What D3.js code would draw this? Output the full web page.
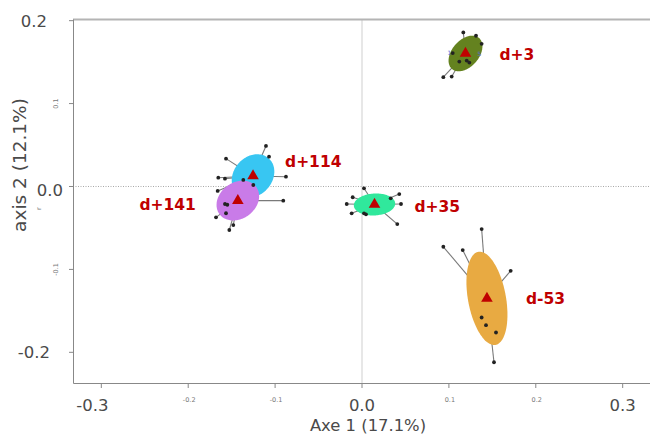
<!DOCTYPE html>
<html>
<head>
  <meta content="text/html;charset=utf-8" http-equiv="Content-Type">
  <title>PCoA ellipses</title>

  <style type="text/css">
    body { margin:0; background:#fff; }
    svg text { font-family: "DejaVu Sans", sans-serif; }
    .big   { fill:#4a4a4a; font-size:16.5px; }
    .small { fill:#777; font-size:6.5px; }
    .title { fill:#4a4a4a; }
    .grp   { fill:#c00000; font-weight:bold; font-size:15.5px; }
  </style>

  <script src="https://cdnjs.cloudflare.com/ajax/libs/d3/7.6.1/d3.min.js"></script>
  <script>

    // groups (sampling days), centroids and ellipse shape, in axis units
    var groups     = ['d+3', 'd+114', 'd+141', 'd+35', 'd-53'];
    var colors     = ['#64821f', '#38c6f2', '#c97be8', '#30e89c', '#e8aa42'];
    var centroidX  = [0.1191, -0.1254, -0.1429, 0.0144, 0.1438];
    var centroidY  = [0.1604, 0.0127, -0.0170, -0.0217, -0.1349];
    var ellipseSX  = [0.0195, 0.0245, 0.0245, 0.0238, 0.0236];
    var ellipseSY  = [0.0215, 0.0262, 0.0240, 0.0133, 0.0563];
    var ellipseRho = [0.4, 0.2, 0.22, 0.08, -0.35];

    // samples of each group
    var pointsX = [
      [0.1166, 0.1312, 0.1377, 0.1044, 0.1120, 0.1205, 0.1235, 0.0936, 0.1032],
      [-0.1105, -0.1070, -0.1565, -0.0875, -0.1654, -0.1577, -0.1661, -0.1366, -0.1251],
      [-0.0906, -0.1577, -0.1550, -0.1680, -0.1527, -0.1481, -0.1565],
      [0.0023, -0.0107, -0.0176, -0.0119, 0.0046, 0.0023, 0.0330, 0.0429, 0.0449, 0.0406],
      [0.0936, 0.1159, 0.1711, 0.1377, 0.1377, 0.1427, 0.1542, 0.1519]
    ];
    var pointsY = [
      [0.1858, 0.1818, 0.1721, 0.1609, 0.1507, 0.1519, 0.1495, 0.1319, 0.1326],
      [0.0489, 0.0360, 0.0336, 0.0118, 0.0106, 0.0094, -0.0054, 0.0079, 0.0018],
      [-0.0171, -0.0211, -0.0220, -0.0372, -0.0525, -0.0465, -0.0323],
      [-0.0022, -0.0130, -0.0211, -0.0324, -0.0336, -0.0324, -0.0143, -0.0091, -0.0211, -0.0453],
      [-0.0727, -0.0767, -0.1017, -0.0513, -0.1580, -0.1673, -0.1761, -0.2120]
    ];

    // stray sample labels left visible next to d+3
    var tinyText = ['1', '5'];
    var tinyX = [0.1005, 0.1350];
    var tinyY = [0.1607, 0.1595];

    var xTicksBig   = [-0.3, 0.0, 0.3];
    var xTicksSmall = [-0.2, -0.1, 0.1, 0.2];
    var yTicksBig   = [0.2, 0.0, -0.2];
    var yTicksSmall = [0.1, -0.1];
    var xTitle = 'Axe 1 (17.1%)';
    var yTitle = 'axis 2 (12.1%)';

    // label offsets from centroid, pixels
    var labelDX = [34, 32, -42, 40, 39];
    var labelDY = [6.5, -9, 9.5, 7.5, 6];

    function main() {

      var svg = d3.select('#chart').attr('width', 650).attr('height', 434);

      var x = d3.scaleLinear().domain([-0.3326, 0.3326]).range([73, 651]);
      var y = d3.scaleLinear().domain([-0.237, 0.2014]).range([383, 19.5]);

      // zero lines
      svg.append('line').attr('x1', x(0)).attr('x2', x(0))
        .attr('y1', y.range()[1]).attr('y2', y.range()[0])
        .attr('stroke', '#cfcfcf').attr('stroke-width', 1);
      svg.append('line').attr('x1', 73).attr('x2', 650)
        .attr('y1', y(0)).attr('y2', y(0))
        .attr('stroke', '#a8a8a8').attr('stroke-width', 1).attr('stroke-dasharray', '1,1.5');

      // frame
      svg.append('line').attr('x1', 73).attr('x2', 650).attr('y1', 19.5).attr('y2', 19.5)
        .attr('stroke', '#b4b4b4').attr('stroke-width', 2);
      svg.append('path')
        .attr('d', 'M73.5,19.5V383.5H650')
        .attr('fill', 'none').attr('stroke', '#888').attr('stroke-width', 1);

      // ticks
      svg.selectAll('.xt').data(xTicksBig.concat(xTicksSmall)).enter().append('line')
        .attr('x1', function(d) { return x(d); }).attr('x2', function(d) { return x(d); })
        .attr('y1', 383.5).attr('y2', 388).attr('stroke', '#888');
      svg.selectAll('.yt').data(yTicksBig.concat(yTicksSmall)).enter().append('line')
        .attr('x1', 69).attr('x2', 73.5)
        .attr('y1', function(d) { return y(d); }).attr('y2', function(d) { return y(d); })
        .attr('stroke', '#888');

      svg.selectAll('.xbig').data(xTicksBig).enter().append('text')
        .attr('class', 'big')
        .attr('x', function(d) { return x(d) - (d < 0 ? 9 : 0); })
        .attr('y', 410.5)
        .attr('text-anchor', 'middle')
        .text(function(d) { return d.toFixed(1); });
      svg.selectAll('.xsmall').data(xTicksSmall).enter().append('text')
        .attr('class', 'small')
        .attr('x', function(d) { return x(d) + 1; })
        .attr('y', 401.5)
        .attr('text-anchor', 'middle')
        .text(function(d) { return d.toFixed(1); });

      var yRight = {'0.2': 47, '0': 63, '-0.2': 50};
      svg.selectAll('.ybig').data(yTicksBig).enter().append('text')
        .attr('class', 'big')
        .attr('x', function(d) { return yRight[String(d)]; })
        .attr('y', function(d) { return y(d) + 6 + (d === 0 ? 4 : 0); })
        .attr('text-anchor', 'end')
        .text(function(d) { return d.toFixed(1); });
      svg.selectAll('.ysmall').data(yTicksSmall).enter().append('text')
        .attr('class', 'small')
        .attr('transform', function(d) { return 'translate(58,' + y(d) + ') rotate(-90)'; })
        .attr('text-anchor', 'middle')
        .text(function(d) { return d.toFixed(1); });

      svg.append('text').attr('class', 'small')
        .attr('transform', 'translate(41,210) rotate(-90)')
        .attr('fill', '#8090a8')
        .text('r');

      // titles
      svg.append('text').attr('class', 'title')
        .attr('x', 368).attr('y', 430.5).attr('text-anchor', 'middle')
        .style('font-size', '16.4px')
        .text(xTitle);
      svg.append('text').attr('class', 'title')
        .attr('transform', 'translate(25.5,165) rotate(-90)')
        .attr('text-anchor', 'middle')
        .style('font-size', '18.5px')
        .text(yTitle);

      var idx = d3.range(groups.length);

      // stars: centroid to each sample
      idx.forEach(function(g) {
        svg.selectAll('.star' + g).data(pointsX[g]).enter().append('line')
          .attr('x1', x(centroidX[g])).attr('y1', y(centroidY[g]))
          .attr('x2', function(d) { return x(d); })
          .attr('y2', function(d, i) { return y(pointsY[g][i]); })
          .attr('stroke', '#7a7a7a').attr('stroke-width', 1.1);
      });

      // ellipses
      var t = d3.range(0, 2 * Math.PI + 0.01, Math.PI / 60);
      var line = d3.line();
      svg.selectAll('.ell').data(idx).enter().append('path')
        .attr('d', function(g) {
          var k = Math.sqrt(1 - ellipseRho[g] * ellipseRho[g]);
          return line(t.map(function(a) {
            return [x(centroidX[g] + ellipseSX[g] * Math.cos(a)),
                    y(centroidY[g] + ellipseSY[g] * (ellipseRho[g] * Math.cos(a) + k * Math.sin(a)))];
          })) + 'Z';
        })
        .attr('fill', function(g) { return colors[g]; });

      // samples
      idx.forEach(function(g) {
        svg.selectAll('.pt' + g).data(pointsX[g]).enter().append('circle')
          .attr('cx', function(d) { return x(d); })
          .attr('cy', function(d, i) { return y(pointsY[g][i]); })
          .attr('r', 1.9)
          .attr('fill', '#222');
      });

      svg.selectAll('.tiny').data(tinyText).enter().append('text')
        .attr('x', function(d, i) { return x(tinyX[i]); })
        .attr('y', function(d, i) { return y(tinyY[i]) + 2; })
        .attr('text-anchor', 'middle')
        .style('font-size', '6px').attr('fill', '#5a6bd0')
        .text(function(d) { return d; });

      // centroids
      svg.selectAll('.cen').data(idx).enter().append('path')
        .attr('d', d3.symbol().type(d3.symbolTriangle).size(58))
        .attr('transform', function(g) { return 'translate(' + x(centroidX[g]) + ',' + y(centroidY[g]) + ')'; })
        .attr('fill', '#c00000');

      // group labels
      svg.selectAll('.grp').data(idx).enter().append('text')
        .attr('class', 'grp')
        .attr('x', function(g) { return x(centroidX[g]) + labelDX[g]; })
        .attr('y', function(g) { return y(centroidY[g]) + labelDY[g]; })
        .attr('text-anchor', function(g) { return labelDX[g] < 0 ? 'end' : 'start'; })
        .text(function(g) { return groups[g]; });
    }

  </script>
</head>
<body onload='main()'>

  <svg id="chart"></svg>

</body>
</html>
